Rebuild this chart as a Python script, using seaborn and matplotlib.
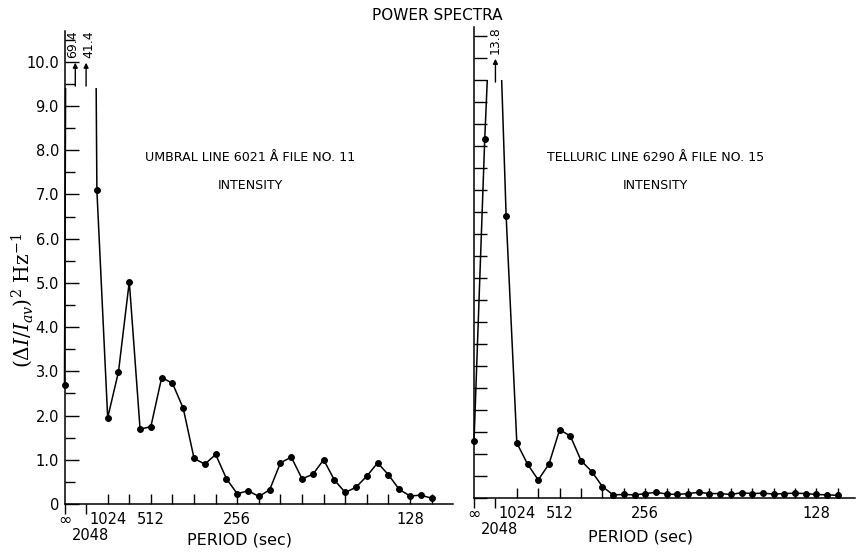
import matplotlib
matplotlib.use("Agg")
import matplotlib.pyplot as plt
import numpy as np
import pandas as pd
import seaborn as sns
from matplotlib.patches import Rectangle
from matplotlib.ticker import FixedLocator, NullFormatter, FuncFormatter

# ---------------- data ----------------
# frequency in units of 1/2048 Hz (0 = infinite period)
freq = [0, 0.5, 1, 1.5, 2, 2.5, 3, 3.5, 4, 4.5, 5, 5.5, 6, 6.5, 7, 7.5, 8, 8.5,
        9, 9.5, 10, 10.5, 11, 11.5, 12, 12.5, 13, 13.5, 14, 14.5, 15, 15.5, 16,
        16.5, 17]

umbral_power = [2.70, 69.4, 41.4, 7.09, 1.95, 2.99, 5.03, 1.69, 1.75, 2.86,
                2.73, 2.16, 1.03, 0.90, 1.12, 0.57, 0.23, 0.30, 0.17, 0.32,
                0.93, 1.06, 0.57, 0.67, 1.00, 0.54, 0.26, 0.38, 0.63, 0.93,
                0.66, 0.33, 0.18, 0.20, 0.13]

telluric_power = [1.30, 8.15, 13.8, 6.41, 1.25, 0.77, 0.41, 0.77, 1.55, 1.41,
                  0.85, 0.60, 0.26, 0.07, 0.08, 0.07, 0.10, 0.13, 0.09, 0.08,
                  0.10, 0.13, 0.10, 0.10, 0.08, 0.12, 0.10, 0.11, 0.09, 0.10,
                  0.11, 0.10, 0.08, 0.07, 0.06]

# period tick labels (position in units of 1/2048 Hz -> period label)
long_tick_pos = [0, 1]
long_tick_labels = ["\u221e", ""]
period_tick_pos = [2, 4, 8, 16]
period_tick_labels = ["1024", "512", "256", "128"]
low_label_pos = 1
low_label = "2048"
minor_x_ticks = list(range(0, 18))
y_major = [0, 1, 2, 3, 4, 5, 6, 7, 8, 9, 10]
y_labels = ["0", "1.0", "2.0", "3.0", "4.0", "5.0", "6.0", "7.0", "8.0", "9.0", "10.0"]
y_minor = [0.5, 1.5, 2.5, 3.5, 4.5, 5.5, 6.5, 7.5, 8.5, 9.5, 10.5]

left_title = ["UMBRAL LINE 6021 \u00c5 FILE NO. 11", "INTENSITY"]
right_title = ["TELLURIC LINE 6290 \u00c5 FILE NO. 15", "INTENSITY"]

# ---------------- style ----------------
sns.set_theme(style="white")
plt.rcParams["font.family"] = ["DejaVu Sans"]
plt.rcParams["mathtext.fontset"] = "dejavuserif"
for k in ["text.color", "axes.labelcolor", "xtick.color", "ytick.color"]:
    plt.rcParams[k] = "black"

fig = plt.figure(figsize=(8.6, 5.54), dpi=100)
axL = fig.add_axes([0.075, 0.0903, 0.452, 0.854])
axR = fig.add_axes([0.5512, 0.1011, 0.443, 0.850])

dfL = pd.DataFrame({"freq": freq, "power": umbral_power})
dfR = pd.DataFrame({"freq": freq, "power": telluric_power})

period_map = dict(zip(period_tick_pos, period_tick_labels))


def minor_fmt(x, pos):
    return period_map.get(int(round(x)), "")


def draw_panel(ax, df, clip_top, xmax, show_ylabels, texts, text_xy,
               label_dx):
    sns.lineplot(data=df, x="freq", y="power", ax=ax, color="black",
                 marker="o", markersize=4.2, linewidth=1.1,
                 markeredgecolor="black", errorbar=None, sort=True)
    rect = Rectangle((-1, -1), xmax + 3, clip_top + 1, transform=ax.transData)
    for ln in ax.lines:
        ln.set_clip_path(rect)
    ax.set_xlim(0, xmax)
    ax.set_ylim(0, 10.7)
    for s in ["top", "right"]:
        ax.spines[s].set_visible(False)
    for s in ["left", "bottom"]:
        ax.spines[s].set_color("black")
        ax.spines[s].set_linewidth(1.1)

    ax.tick_params(bottom=True, left=True, which="both")
    ax.xaxis.set_major_locator(FixedLocator(long_tick_pos))
    ax.set_xticklabels(long_tick_labels, fontsize=11.5)
    ax.xaxis.set_minor_locator(FixedLocator(minor_x_ticks))
    ax.xaxis.set_minor_formatter(FuncFormatter(minor_fmt))
    ax.tick_params(axis="x", which="major", direction="out", length=7.2,
                   width=1, color="black", pad=-1)
    ax.tick_params(axis="x", which="minor", direction="in", length=7,
                   width=1, color="black", pad=6, labelsize=10.5)
    ax.annotate(low_label, xy=(low_label_pos + 0.2, 0), xycoords="data",
                xytext=(0, -17.5), textcoords="offset points",
                ha="center", va="top", fontsize=10.5, annotation_clip=False)

    ax.yaxis.set_major_locator(FixedLocator(y_major))
    ax.yaxis.set_minor_locator(FixedLocator(y_minor))
    if show_ylabels:
        ax.set_yticklabels(y_labels, fontsize=10.5)
        ax.tick_params(axis="y", which="major", direction="in", length=10,
                       width=1, color="black", pad=4)
        ax.tick_params(axis="y", which="minor", direction="in", length=7,
                       width=1, color="black")
    else:
        ax.yaxis.set_major_formatter(NullFormatter())
        ax.tick_params(axis="y", which="both", direction="in", length=9,
                       width=1, color="black")
    ax.set_xlabel("PERIOD (sec)", fontsize=11.5)
    ax.set_ylabel("")

    # off-scale peaks: arrows with values
    for f, v in zip(df["freq"], df["power"]):
        if v > 10.7:
            ax.annotate("", xy=(f, 9.98), xytext=(f, 9.45),
                        arrowprops=dict(arrowstyle="-|>", color="black",
                                        lw=1.0, mutation_scale=7,
                                        shrinkA=0, shrinkB=0))
            ax.annotate(f"{v:.1f}", xy=(f, 10.08), xycoords="data",
                        xytext=(label_dx.get(f, 0), 0),
                        textcoords="offset points", rotation=90,
                        ha="center", va="bottom", fontsize=9,
                        annotation_clip=False)

    ax.text(text_xy[0], text_xy[1], texts[0], ha="center", va="center",
            fontsize=9.1)
    ax.text(text_xy[0], text_xy[1] - 0.62, texts[1], ha="center",
            va="center", fontsize=9.1)


draw_panel(axL, dfL, 9.4, 18.0, True, left_title, (8.6, 7.83),
           {0.5: -2.2, 1.0: 2.2})
draw_panel(axR, dfR, 9.5, 17.8, False, right_title, (8.46, 7.73), {})

axL.xaxis.set_label_coords(0.451, -0.060)
axR.xaxis.set_label_coords(0.436, -0.066)
axL.xaxis.label.set_va("top")
axR.xaxis.label.set_va("top")

axL.set_ylabel(r"$(\Delta I/I_{av})^2\ \mathrm{Hz}^{-1}$", fontsize=14.5)
axL.yaxis.set_label_coords(-0.076, 0.43)

fig.text(437 / 860, 1 - 15 / 554, "POWER SPECTRA", ha="center",
         va="center", fontsize=11)

fig.savefig("out.png", dpi=100, facecolor="white")
